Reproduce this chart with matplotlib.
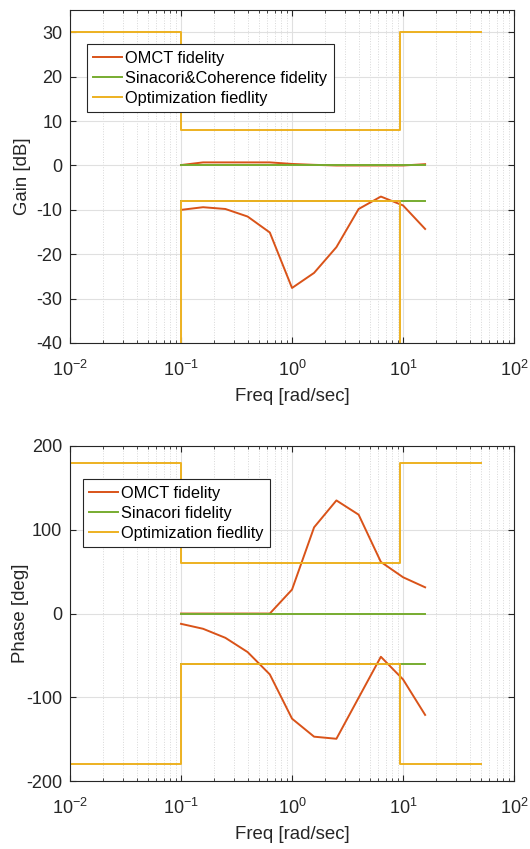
import numpy as np
import matplotlib
matplotlib.use("Agg")
import matplotlib.pyplot as plt
from matplotlib.ticker import LogLocator, NullFormatter

plt.rcParams['font.family'] = ['Liberation Sans', 'DejaVu Sans']
plt.rcParams['axes.unicode_minus'] = False

# ---- data ----
freq = [0.1, 0.158, 0.251, 0.398, 0.631, 1.0, 1.58, 2.51, 3.98, 6.31, 10.0, 15.8]

omct_gain_upper = [0.1, 0.7, 0.7, 0.7, 0.7, 0.35, 0.15, 0.0, 0.0, 0.0, 0.0, 0.3]
omct_gain_lower = [-10.0, -9.4, -9.8, -11.5, -15.1, -27.6, -24.2, -18.4, -9.8, -7.0, -9.0, -14.3]

omct_phase_upper = [0.0, 0.0, 0.0, 0.0, 0.0, 28.6, 102.9, 135.0, 118.0, 61.6, 43.3, 31.3]
omct_phase_lower = [-12.3, -18.2, -29.0, -46.0, -72.7, -125.5, -147.0, -149.5, -100.5, -51.6, -78.7, -121.0]

sin_freq = [0.1, 15.8]
sin_gain_upper = [0, 0]
sin_gain_lower = [-8, -8]
sin_phase_upper = [0, 0]
sin_phase_lower = [-60, -60]

opt_freq_full = [0.01, 0.1, 0.1, 9.3, 9.3, 50]
opt_gain_upper = [30, 30, 8, 8, 30, 30]
opt_freq_low = [0.1, 0.1, 9.3, 9.3]
opt_gain_lower = [-100, -8, -8, -100]
opt_phase_upper = [180, 180, 60, 60, 180, 180]
opt_phase_lower = [-180, -180, -60, -60, -180, -180]

C_OMCT = '#D95319'
C_SIN = '#77AC30'
C_OPT = '#EDB120'
AX_COL = '#262626'

fig = plt.figure(figsize=(5.30, 8.49), dpi=100)
ax1 = fig.add_axes([0.132, 0.596, 0.838, 0.392])
ax2 = fig.add_axes([0.132, 0.080, 0.838, 0.3947])

def style(ax):
    ax.set_xscale('log')
    ax.set_xlim(0.01, 100)
    ax.xaxis.set_major_locator(LogLocator(base=10, numticks=10))
    ax.xaxis.set_minor_locator(LogLocator(base=10, subs=np.arange(2, 10), numticks=50))
    ax.xaxis.set_minor_formatter(NullFormatter())
    ax.grid(True, which='major', color='#e0e0e0', linestyle='-', linewidth=0.8)
    ax.grid(True, which='minor', axis='x', color='#d8d8d8', linestyle=':', linewidth=0.7)
    ax.set_axisbelow(True)
    ax.tick_params(which='both', direction='in', colors=AX_COL, labelsize=13,
                   top=True, right=True, length=4)
    ax.tick_params(which='minor', length=2)
    ax.tick_params(axis='x', pad=12)
    ax.tick_params(axis='y', pad=5.5)
    for s in ax.spines.values():
        s.set_color(AX_COL)
        s.set_linewidth(0.8)
    ax.set_xlabel('Freq [rad/sec]', fontsize=13.4, color=AX_COL, labelpad=6)

lw = 1.4
leg_kw = dict(loc='upper left', fontsize=11.8, frameon=True, fancybox=False,
              edgecolor=AX_COL, framealpha=1, handlelength=1.75, handletextpad=0.2,
              borderpad=0.4, labelspacing=0.3, borderaxespad=0)

# Gain plot
ax1.plot(freq, omct_gain_upper, color=C_OMCT, lw=lw, label='OMCT fidelity')
ax1.plot(freq, omct_gain_lower, color=C_OMCT, lw=lw)
ax1.plot(sin_freq, sin_gain_upper, color=C_SIN, lw=lw, label='Sinacori&Coherence fidelity')
ax1.plot(sin_freq, sin_gain_lower, color=C_SIN, lw=lw)
ax1.plot(opt_freq_full, opt_gain_upper, color=C_OPT, lw=lw, label='Optimization fiedlity')
ax1.plot(opt_freq_low, opt_gain_lower, color=C_OPT, lw=lw)
style(ax1)
ax1.set_ylim(-40, 35)
ax1.set_yticks(np.arange(-40, 31, 10))
ax1.set_ylabel('Gain [dB]', fontsize=13.4, color=AX_COL)
ax1.yaxis.set_label_coords(-0.088, 0.5)
leg1 = ax1.legend(bbox_to_anchor=(0.0376, 0.898), **leg_kw)
leg1.get_frame().set_linewidth(0.8)

# Phase plot
ax2.plot(freq, omct_phase_upper, color=C_OMCT, lw=lw, label='OMCT fidelity')
ax2.plot(freq, omct_phase_lower, color=C_OMCT, lw=lw)
ax2.plot(sin_freq, sin_phase_upper, color=C_SIN, lw=lw, label='Sinacori fidelity')
ax2.plot(sin_freq, sin_phase_lower, color=C_SIN, lw=lw)
ax2.plot(opt_freq_full, opt_phase_upper, color=C_OPT, lw=lw, label='Optimization fiedlity')
ax2.plot(opt_freq_full, opt_phase_lower, color=C_OPT, lw=lw)
style(ax2)
ax2.set_ylim(-200, 200)
ax2.set_yticks([-200, -100, 0, 100, 200])
ax2.set_ylabel('Phase [deg]', fontsize=13.4, color=AX_COL)
ax2.yaxis.set_label_coords(-0.092, 0.5)
leg2 = ax2.legend(bbox_to_anchor=(0.029, 0.901), **leg_kw)
leg2.get_frame().set_linewidth(0.8)

fig.savefig('out.png', dpi=100)
